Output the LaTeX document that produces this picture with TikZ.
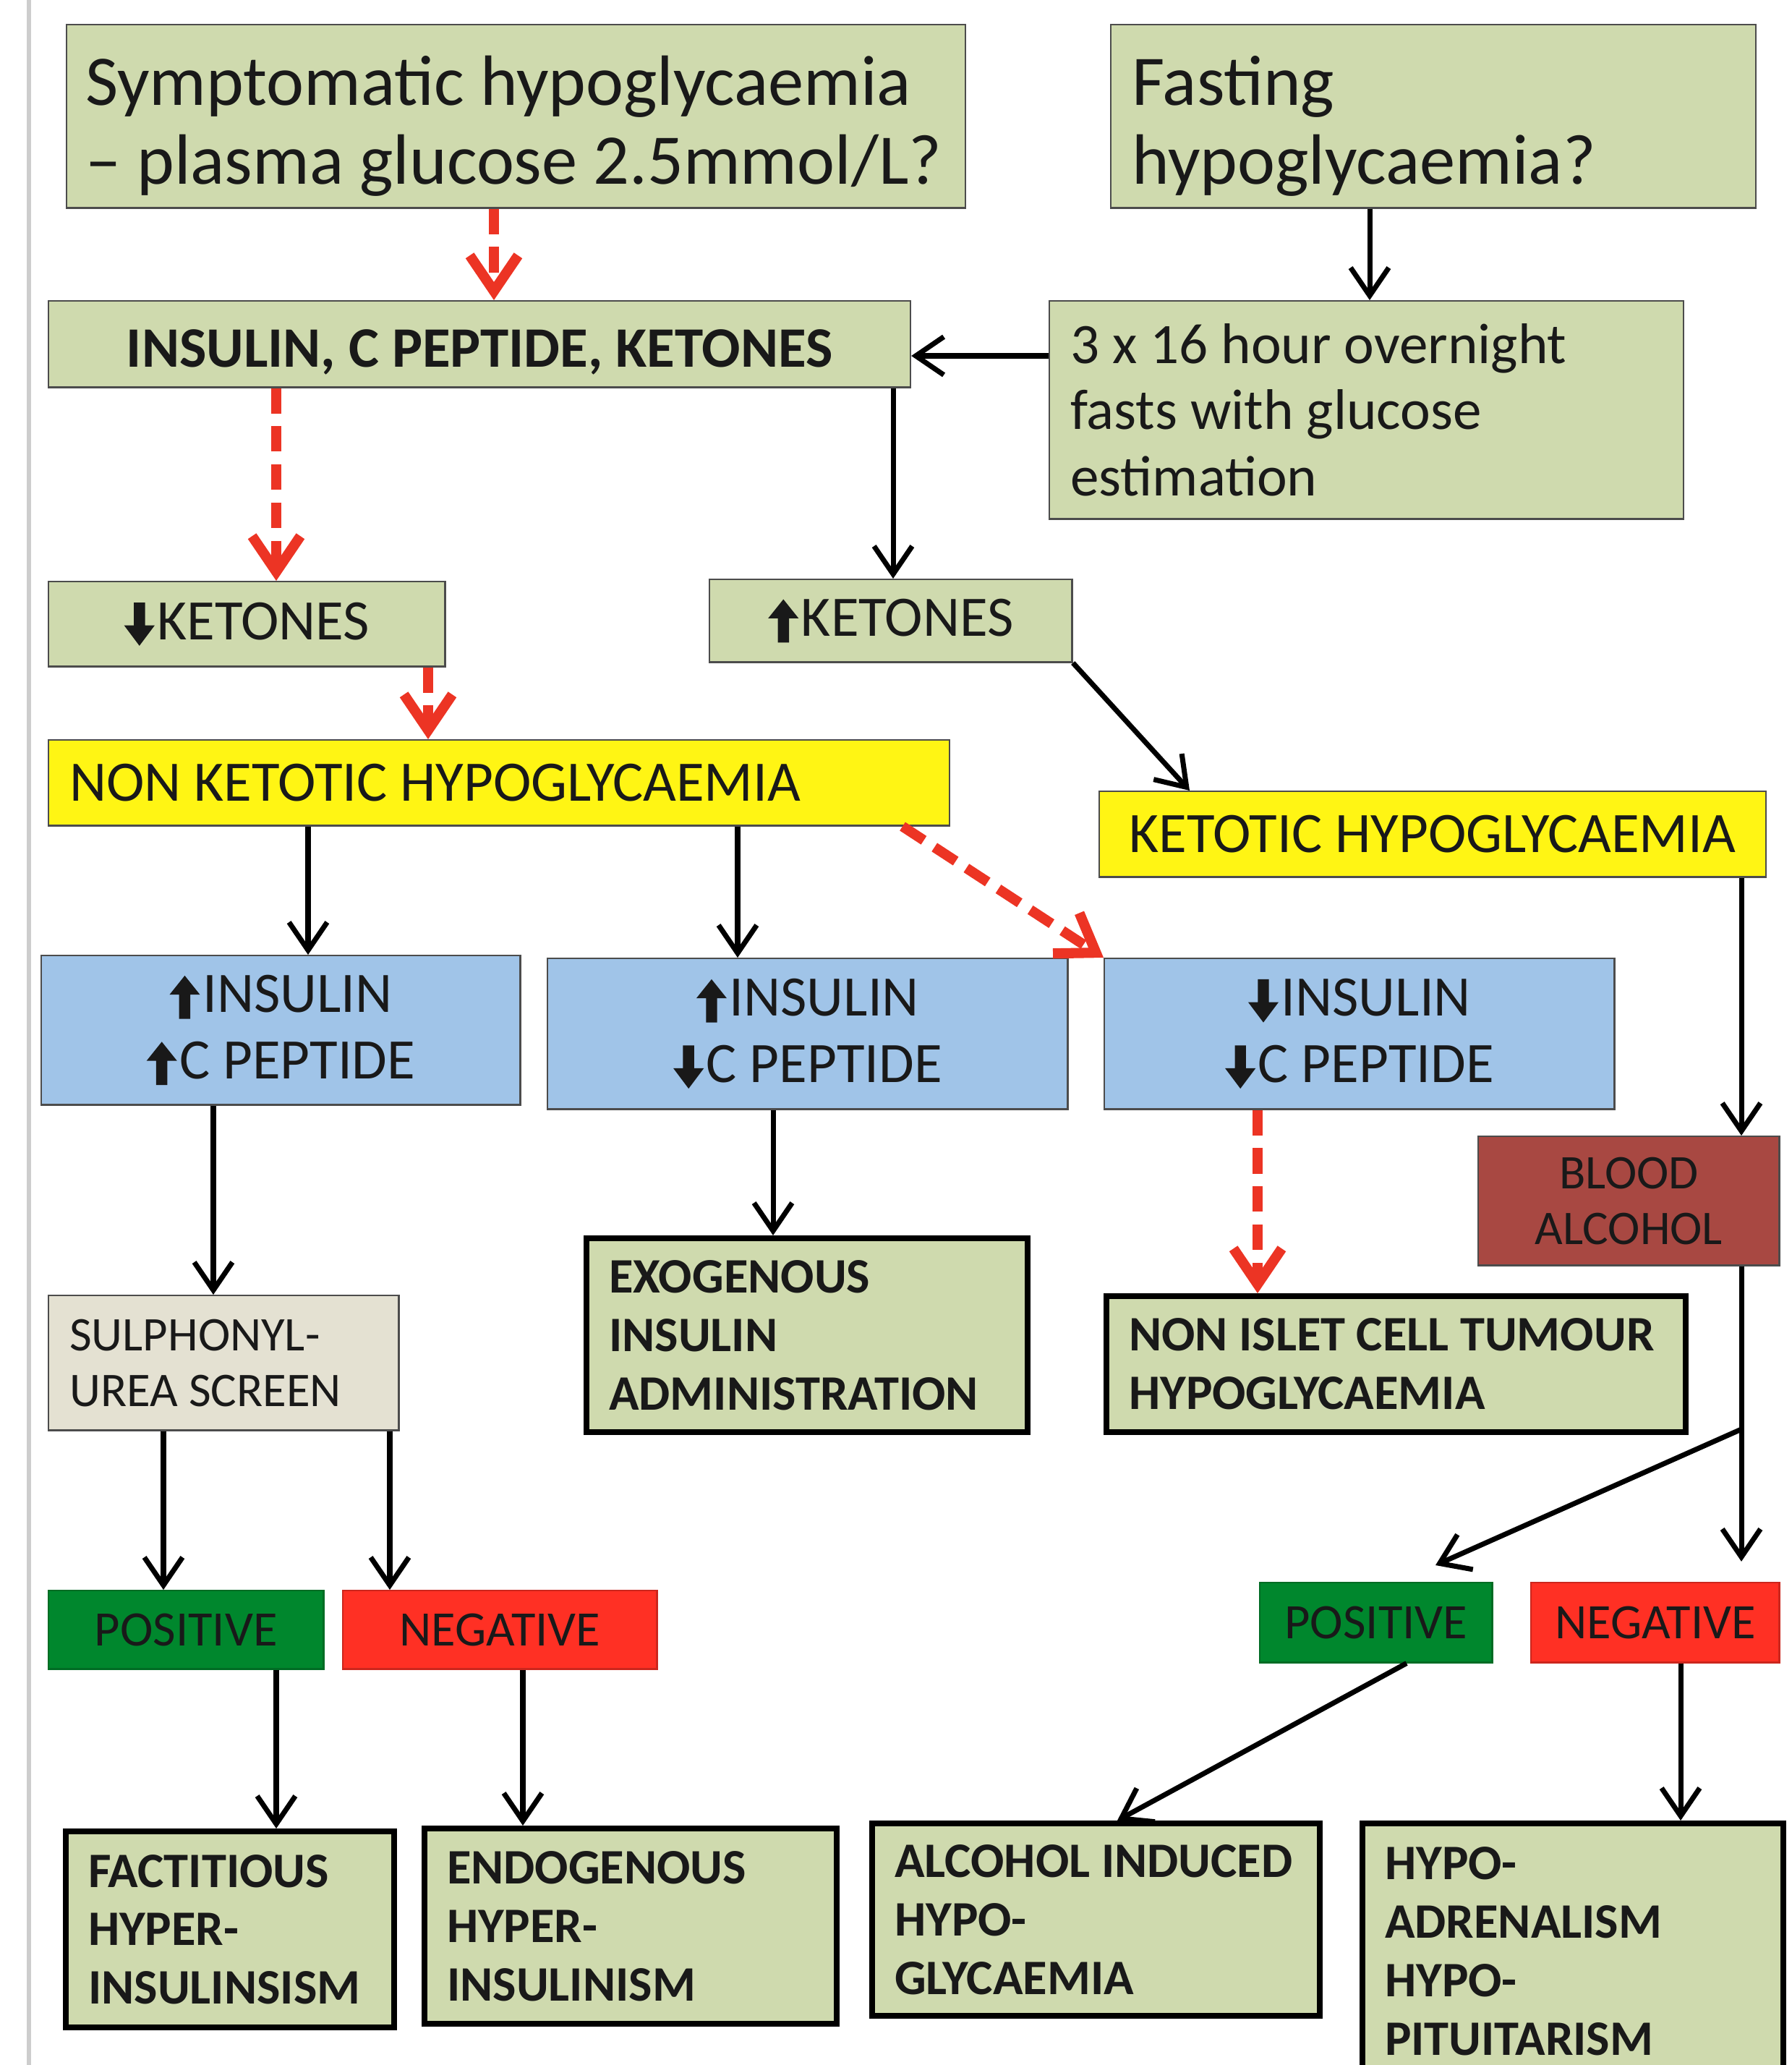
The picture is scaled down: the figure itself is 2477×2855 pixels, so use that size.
\documentclass[tikz,border=0pt]{standalone}
\usepackage{fontspec}
\setmainfont{Carlito}
\usetikzlibrary{arrows.meta}

\definecolor{olivefill}{RGB}{207,218,174}
\definecolor{ketyellow}{RGB}{255,245,20}
\definecolor{insblue}{RGB}{160,196,232}
\definecolor{alcred}{RGB}{168,72,66}
\definecolor{posgreen}{RGB}{0,135,45}
\definecolor{negred}{RGB}{255,48,36}
\definecolor{screenbeige}{RGB}{228,225,210}
\definecolor{dashred}{RGB}{236,52,36}
\definecolor{edgegray}{RGB}{205,205,205}

% 太い上下の矢印 (文字の前)
\newcommand{\upa}{\tikz[baseline=0pt, x=1pt, y=1pt] \fill (-2.2,-2.5) -- (2.2,-2.5) -- (2.2,7) -- (6,7) -- (0,14.5) -- (-6,7) -- (-2.2,7) -- cycle;\hspace{1pt}}
\newcommand{\dna}{\tikz[baseline=0pt, x=1pt, y=1pt] \fill (-2.2,14.5) -- (2.2,14.5) -- (2.2,5.5) -- (6,5.5) -- (0,-2.5) -- (-6,5.5) -- (-2.2,5.5) -- cycle;\hspace{1pt}}
\newcommand{\bigtxt}{\fontsize{28}{31}\selectfont}
\newcommand{\midtxt}{\fontsize{22.5}{26}\selectfont}
\newcommand{\smalltxt}{\fontsize{19.5}{23}\selectfont}

\tikzset{
  box/.style={draw=black!70, line width=0.7pt, inner sep=0pt, anchor=north west, text=black!90},
  olivebox/.style={box, fill=olivefill},
  yellowbox/.style={box, fill=ketyellow},
  bluebox/.style={box, fill=insblue, align=center, font=\midtxt},
  resultbox/.style={box, draw=black, line width=2.3pt, fill=olivefill, align=flush left, font=\smalltxt\bfseries},
  posbox/.style={box, draw=posgreen!80!black, fill=posgreen, font=\smalltxt},
  negbox/.style={box, draw=negred!80!black, fill=negred, font=\smalltxt},
  arr/.style={-{Straight Barb[length=11pt,width=15pt]}, line width=2pt},
  redarr/.style={-{Straight Barb[length=14pt,width=19pt]}, line width=4pt, draw=dashred, dash pattern=on 10pt off 5pt}
}

\begin{document}
\begin{tikzpicture}[x=0.01cm, y=-0.01cm]
  \useasboundingbox (0,0) rectangle (2477,2855);
  \clip (0,0) rectangle (2477,2855);
  \draw[edgegray, line width=1.5pt] (40,0) -- (40,2855);

  % 上段
  \node[olivebox, minimum width=12.42cm, minimum height=2.53cm, text width=11.9cm, align=flush left, font=\bigtxt] (sympt) at (91,33) {\rule{0pt}{27pt}Symptomatic hypoglycaemia\\– plasma glucose 2.5mmol/L?};
  \node[olivebox, minimum width=8.91cm, minimum height=2.53cm, text width=8.33cm, align=flush left, font=\bigtxt] (fasting) at (1535,33) {\rule{0pt}{27pt}Fasting\\hypoglycaemia?};
  \node[olivebox, minimum width=11.91cm, minimum height=1.19cm, font=\midtxt\bfseries] (icpk) at (66,415) {\rule{0pt}{21pt}INSULIN, C PEPTIDE, KETONES};
  \node[olivebox, minimum width=8.76cm, minimum height=3.01cm, text width=8.18cm, align=flush left, font=\midtxt] (fasts) at (1450,415) {3 x 16 hour overnight\\fasts with glucose\\estimation};

  % ケトン
  \node[olivebox, minimum width=5.48cm, minimum height=1.17cm, font=\midtxt] (ketdown) at (66,803) {\dna KETONES};
  \node[olivebox, minimum width=5.01cm, minimum height=1.14cm, font=\midtxt] (ketup) at (980,800) {\upa KETONES};
  \node[yellowbox, minimum width=12.45cm, minimum height=1.18cm, text width=11.87cm, align=flush left, font=\midtxt] (nonket) at (66,1022) {NON KETOTIC HYPOGLYCAEMIA};
  \node[yellowbox, minimum width=9.21cm, minimum height=1.18cm, font=\midtxt] (ket) at (1519,1093) {KETOTIC HYPOGLYCAEMIA};

  % インスリン
  \node[bluebox, minimum width=6.62cm, minimum height=2.06cm] (insA) at (56,1320) {\upa INSULIN\\\upa C PEPTIDE};
  \node[bluebox, minimum width=7.19cm, minimum height=2.08cm] (insB) at (756,1324) {\upa INSULIN\\\dna C PEPTIDE};
  \node[bluebox, minimum width=7.05cm, minimum height=2.08cm] (insC) at (1526,1324) {\dna INSULIN\\\dna C PEPTIDE};
  \node[box, fill=alcred, minimum width=4.16cm, minimum height=1.78cm, align=center, font=\fontsize{19}{22}\selectfont] (blood) at (2043,1570) {BLOOD\\ALCOHOL};

  % 検査
  \node[box, fill=screenbeige, minimum width=4.84cm, minimum height=1.86cm, text width=4.26cm, align=flush left, font=\fontsize{19}{22}\selectfont] (sulph) at (66,1790) {SULPHONYL-\\UREA SCREEN};
  \node[resultbox, minimum width=6.10cm, minimum height=2.68cm, text width=5.48cm] (exo) at (807,1708) {EXOGENOUS\\INSULIN\\ADMINISTRATION};
  \node[resultbox, minimum width=8.00cm, minimum height=1.88cm, text width=7.38cm] (nict) at (1526,1788) {NON ISLET CELL TUMOUR\\HYPOGLYCAEMIA};
  \node[posbox, minimum width=3.80cm, minimum height=1.08cm] (posL) at (66,2198) {POSITIVE};
  \node[negbox, minimum width=4.34cm, minimum height=1.08cm] (negL) at (473,2198) {NEGATIVE};
  \node[posbox, minimum width=3.21cm, minimum height=1.10cm] (posR) at (1741,2187) {POSITIVE};
  \node[negbox, minimum width=3.43cm, minimum height=1.10cm] (negR) at (2116,2187) {NEGATIVE};

  % 診断
  \node[resultbox, minimum width=4.54cm, minimum height=2.71cm, text width=3.92cm] (fact) at (87,2528) {FACTITIOUS\\HYPER-\\INSULINSISM};
  \node[resultbox, minimum width=5.70cm, minimum height=2.70cm, text width=5.08cm] (endo) at (583,2524) {ENDOGENOUS\\HYPER-\\INSULINISM};
  \node[resultbox, minimum width=6.19cm, minimum height=2.66cm, text width=5.57cm] (alc) at (1202,2517) {ALCOHOL INDUCED\\HYPO-\\GLYCAEMIA};
  \node[resultbox, minimum width=5.82cm, minimum height=3.53cm, text width=5.20cm] (hypo) at (1880,2517) {HYPO-\\ADRENALISM\\HYPO-\\PITUITARISM};

  % 矢印
  \draw[redarr] (683,0 |- sympt.south) -- (683,0 |- icpk.north);
  \draw[redarr] (382,0 |- icpk.south) -- (382,0 |- ketdown.north);
  \draw[redarr] (592,0 |- ketdown.south) -- (592,0 |- nonket.north);
  \draw[arr] (1235,0 |- icpk.south) -- (1235,0 |- ketup.north);
  \draw[arr] (1894,0 |- fasting.south) -- (1894,0 |- fasts.north);
  \draw[arr] (fasts.west |- 0,492) -- (icpk.east |- 0,492);
  \draw[arr] (ketup.south east) -- (1645,0 |- ket.north);
  \draw[arr] (426,0 |- nonket.south) -- (426,0 |- insA.north);
  \draw[arr] (1020,0 |- nonket.south) -- (1020,0 |- insB.north);
  \draw[redarr] (1248,0 |- nonket.south) -- (insC.north west);
  \draw[arr] (295,0 |- insA.south) -- (295,0 |- sulph.north);
  \draw[arr] (1069,0 |- insB.south) -- (1069,0 |- exo.north);
  \draw[redarr] (1739,0 |- insC.south) -- (1739,0 |- nict.north);
  \draw[arr] (226,0 |- sulph.south) -- (226,0 |- posL.north);
  \draw[arr] (539,0 |- sulph.south) -- (539,0 |- negL.north);

  % アルコール
  \coordinate (split) at (2408,1976);
  \coordinate (posRtip) at (1985,2164);
  \draw[arr] (split |- ket.south) -- (split |- blood.north);
  \draw[line width=2pt] (split |- blood.south) -- (split);
  \draw[arr, shorten >=8pt] (split) -- (split |- negR.north);
  \draw[arr] (split) -- (posRtip);

  \draw[arr] (382,0 |- posL.south) -- (382,0 |- fact.north);
  \draw[arr] (723,0 |- negL.south) -- (723,0 |- endo.north);
  \draw[arr] (1945,0 |- posR.south) -- (1545,0 |- alc.north);
  \draw[arr] (2324,0 |- negR.south) -- (2324,0 |- hypo.north);
\end{tikzpicture}
\end{document}
